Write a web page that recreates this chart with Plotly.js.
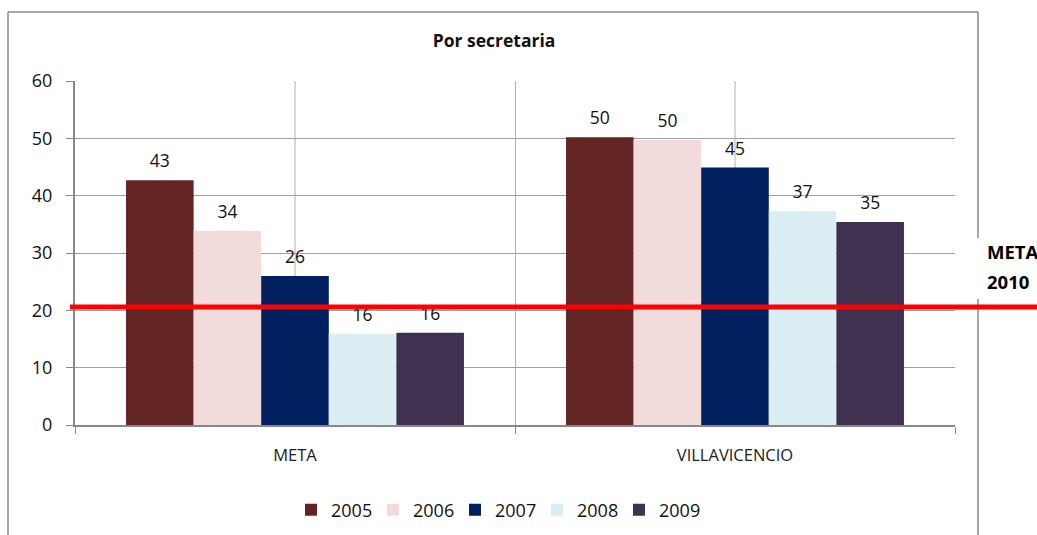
<!DOCTYPE html>
<html>
<head>
<meta charset="utf-8">
<script src="https://cdn.plot.ly/plotly-3.0.1.min.js"></script>
<style>html,body{margin:0;padding:0;background:#fff;}#chart{width:1037px;height:535px;}</style>
</head>
<body>
<div id="chart"></div>
<script>
// ---- data ----
const categories = ["META", "VILLAVICENCIO"];
const years = ["2005", "2006", "2007", "2008", "2009"];
const values2005 = [42.7, 50.2];
const values2006 = [33.9, 49.7];
const values2007 = [26.0, 44.9];
const values2008 = [15.9, 37.3];
const values2009 = [16.1, 35.4];
const goalValue = 20.6;           // "META 2010" reference line
const goalLabel = ["META", "2010"];
const chartTitle = "Por secretaria";
const yTicks = [0, 10, 20, 30, 40, 50, 60];

const seriesValues = [values2005, values2006, values2007, values2008, values2009];
const colors = ["#632523", "#f2dcdb", "#002060", "#dbeef4", "#403151"];
const FONT = "Open Sans, Liberation Sans, Arial, sans-serif";

const barTraces = years.map((yr, i) => ({
  type: "bar",
  name: yr,
  x: categories,
  y: seriesValues[i],
  offsetgroup: yr,
  marker: {color: colors[i], line: {width: 0}},
  hoverinfo: "skip"
}));

// value labels: invisible markers at the bar tops, text placed above them
const labelTraces = years.map((yr, i) => ({
  type: "scatter",
  mode: "text+markers",
  name: yr + " labels",
  showlegend: false,
  x: categories,
  y: seriesValues[i],
  offsetgroup: yr,
  text: seriesValues[i].map(v => String(Math.round(v))),
  textposition: "top center",
  textfont: {family: FONT, size: 17.5, color: "#111"},
  marker: {size: 12, opacity: 0},
  cliponaxis: false,
  hoverinfo: "skip"
}));

const L = 75, R = 955, T = 81, B = 425, W = 1037, H = 535;
const px = v => (v - L) / (R - L);
const py = v => (B - v) / (B - T);

const layout = {
  width: W, height: H,
  margin: {l: L, r: W - R, t: T, b: H - B, pad: 0, autoexpand: false},
  paper_bgcolor: "#ffffff",
  plot_bgcolor: "#ffffff",
  barmode: "group",
  scattermode: "group",
  bargap: 0.232,
  bargroupgap: 0,
  scattergap: 0.232,
  showlegend: true,
  font: {family: FONT, color: "#111"},
  title: {text: "<b>" + chartTitle + "</b>", x: px(494), xanchor: "center", xref: "paper",
          y: (H - 41) / H, yanchor: "middle", yref: "container",
          font: {family: FONT, size: 17.5, color: "#111"}},
  xaxis: {
    type: "category", range: [-0.5, 1.5],
    tickson: "boundaries", ticks: "outside", ticklen: 7, tickcolor: "#888",
    showgrid: true, gridcolor: "#b0b0b0", gridwidth: 1,
    showline: true, linecolor: "#888", linewidth: 2,
    tickfont: {family: FONT, size: 16.5, color: "#222"},
    ticklabelstandoff: 14,
    fixedrange: true
  },
  yaxis: {
    range: [0, 60], tickvals: yTicks, ticks: "outside", ticklen: 7, tickcolor: "#888",
    showgrid: true, gridcolor: "#a0a0a0", gridwidth: 1,
    showline: true, linecolor: "#888", linewidth: 2,
    zeroline: false,
    tickfont: {family: FONT, size: 18, color: "#111"},
    ticklabelstandoff: 10,
    fixedrange: true
  },
  legend: {
    orientation: "h", x: px(496), xanchor: "center",
    yref: "container", y: (H - 510) / H, yanchor: "middle",
    font: {family: FONT, size: 18, color: "#111"},
    traceorder: "normal", itemclick: false, itemdoubleclick: false,
    entrywidth: 37, entrywidthmode: "pixels"
  },
  shapes: [
    // category-centre vertical gridlines
    {type: "line", xref: "x", yref: "paper", x0: 0, x1: 0, y0: 0, y1: 1, line: {color: "#b0b0b0", width: 1}, layer: "below"},
    {type: "line", xref: "x", yref: "paper", x0: 1, x1: 1, y0: 0, y1: 1, line: {color: "#b0b0b0", width: 1}, layer: "below"},
    // chart frame
    {type: "line", xref: "paper", yref: "paper", x0: px(8), x1: px(8), y0: py(12), y1: py(560), line: {color: "#8a8a8a", width: 1.5}},
    {type: "line", xref: "paper", yref: "paper", x0: px(8), x1: px(978), y0: py(12), y1: py(12), line: {color: "#8a8a8a", width: 1.5}},
    {type: "line", xref: "paper", yref: "paper", x0: px(978), x1: px(978), y0: py(12), y1: py(560), line: {color: "#8a8a8a", width: 1.5}},
    // white box behind the goal label
    {type: "rect", xref: "paper", yref: "paper", x0: px(972), x1: px(1037), y0: py(238), y1: py(299), fillcolor: "#ffffff", line: {width: 0}},
    // goal line
    {type: "line", xref: "paper", yref: "y", x0: px(70), x1: px(1040), y0: goalValue, y1: goalValue, line: {color: "#ff0000", width: 5}, layer: "above"}
  ],
  annotations: [
    {xref: "paper", yref: "paper", x: px(985), y: py(251), xanchor: "left", yanchor: "middle", showarrow: false,
     text: "<b>" + goalLabel[0] + "</b>", font: {family: FONT, size: 18.5, color: "#000"}},
    {xref: "paper", yref: "paper", x: px(985), y: py(281), xanchor: "left", yanchor: "middle", showarrow: false,
     text: "<b>" + goalLabel[1] + "</b>", font: {family: FONT, size: 18.5, color: "#000"}}
  ]
};

Plotly.newPlot("chart", barTraces.concat(labelTraces), layout, {displayModeBar: false, staticPlot: true});
</script>
</body>
</html>
